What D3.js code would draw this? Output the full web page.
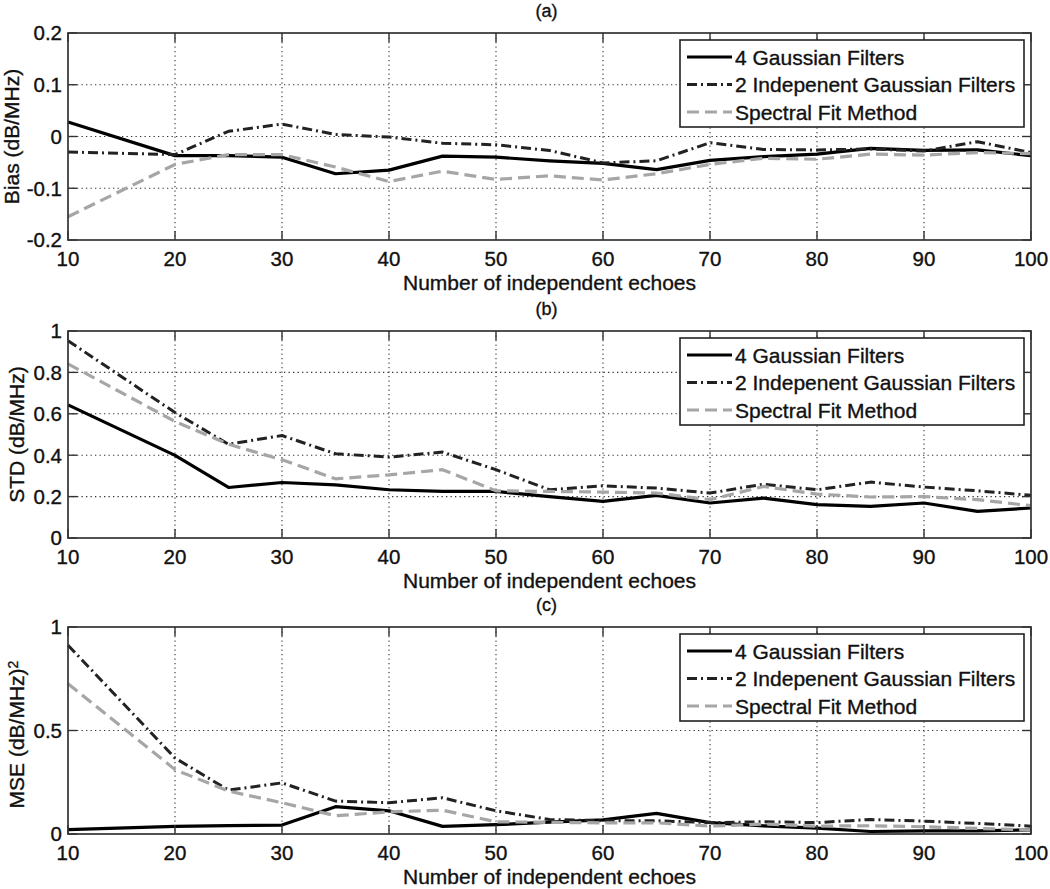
<!DOCTYPE html>
<html>
<head>
<meta charset="utf-8">
<script src="https://cdn.jsdelivr.net/npm/d3@7"></script>
<style>
  html, body { margin: 0; padding: 0; background: #fff; }
  svg { display: block; }
  text { font-family: "Liberation Sans", Arial, Helvetica, sans-serif; fill: #111; stroke: #111; stroke-width: 0.35px; }
</style>
</head>
<body>
<script>
// ---------------- data ----------------
const echoes = [10, 20, 25, 30, 35, 40, 45, 50, 55, 60, 65, 70, 75, 80, 85, 90, 95, 100];
const seriesNames = ["4 Gaussian Filters", "2 Indepenent Gaussian Filters", "Spectral Fit Method"];

const bias4  = [0.028, -0.037, -0.037, -0.040, -0.072, -0.065, -0.038, -0.040, -0.047, -0.052, -0.064, -0.046, -0.039, -0.034, -0.023, -0.027, -0.026, -0.037];
const bias2  = [-0.030, -0.035, 0.010, 0.024, 0.004, -0.001, -0.013, -0.016, -0.027, -0.051, -0.047, -0.012, -0.025, -0.026, -0.024, -0.028, -0.010, -0.031];
const biasSF = [-0.155, -0.054, -0.035, -0.035, -0.059, -0.087, -0.067, -0.083, -0.076, -0.084, -0.072, -0.054, -0.042, -0.044, -0.034, -0.036, -0.031, -0.033];

const std4  = [0.643, 0.399, 0.244, 0.268, 0.257, 0.233, 0.225, 0.225, 0.200, 0.177, 0.206, 0.169, 0.193, 0.161, 0.153, 0.169, 0.129, 0.145];
const std2  = [0.953, 0.606, 0.453, 0.495, 0.407, 0.391, 0.415, 0.330, 0.233, 0.252, 0.241, 0.217, 0.260, 0.233, 0.270, 0.246, 0.228, 0.206];
const stdSF = [0.841, 0.563, 0.453, 0.378, 0.286, 0.305, 0.330, 0.228, 0.225, 0.222, 0.217, 0.185, 0.249, 0.212, 0.198, 0.200, 0.185, 0.156];

const mse4  = [0.021, 0.037, 0.040, 0.043, 0.132, 0.112, 0.037, 0.045, 0.057, 0.068, 0.100, 0.055, 0.039, 0.028, 0.012, 0.015, 0.015, 0.020];
const mse2  = [0.912, 0.367, 0.212, 0.247, 0.159, 0.151, 0.175, 0.112, 0.070, 0.064, 0.064, 0.055, 0.059, 0.055, 0.070, 0.062, 0.051, 0.038];
const mseSF = [0.726, 0.311, 0.207, 0.151, 0.088, 0.107, 0.115, 0.059, 0.056, 0.054, 0.054, 0.038, 0.048, 0.038, 0.040, 0.035, 0.027, 0.020];

const xTicks    = [10, 20, 30, 40, 50, 60, 70, 80, 90, 100];
const biasTicks = [-0.2, -0.1, 0, 0.1, 0.2];
const stdTicks  = [0, 0.2, 0.4, 0.6, 0.8, 1];
const mseTicks  = [0, 0.5, 1];

const panelTitles = ["(a)", "(b)", "(c)"];
const xLabel = "Number of independent echoes";

// ---------------- layout ----------------
const W = 1050, H = 889;
const left = 68, right = 1031, plotH = 207;
const tops = [33, 331, 627];

const styles = [
  { color: "#000000", width: 3.2, dash: null },
  { color: "#222222", width: 3, dash: "10,4,2,4" },
  { color: "#a6a6a6", width: 3.2, dash: "12,6" }
];

const panels = [
  { top: tops[0], domain: [-0.2, 0.2], ticks: biasTicks, series: [bias4, bias2, biasSF], ylabel: "Bias (dB/MHz)", sup: null, ylx: 19 },
  { top: tops[1], domain: [0, 1], ticks: stdTicks, series: [std4, std2, stdSF], ylabel: "STD (dB/MHz)", sup: null, ylx: 24 },
  { top: tops[2], domain: [0, 1], ticks: mseTicks, series: [mse4, mse2, mseSF], ylabel: "MSE (dB/MHz)", sup: "2", ylx: 24 }
];

const svg = d3.select("body").append("svg").attr("width", W).attr("height", H);
svg.append("rect").attr("width", W).attr("height", H).attr("fill", "#fff");

const x = d3.scaleLinear().domain([10, 100]).range([left, right]);
const fmt = v => String(+v.toFixed(2));

panels.forEach((p, pi) => {
  const bottom = p.top + plotH;
  const y = d3.scaleLinear().domain(p.domain).range([bottom, p.top]);
  const g = svg.append("g");

  // grid
  const grid = g.append("g").attr("stroke", "#333").attr("stroke-width", 1.1).attr("stroke-dasharray", "1.3,3.2");
  xTicks.slice(1, -1).forEach(t => {
    grid.append("line").attr("x1", x(t)).attr("x2", x(t)).attr("y1", p.top).attr("y2", bottom);
  });
  p.ticks.slice(1, -1).forEach(t => {
    grid.append("line").attr("x1", left).attr("x2", right).attr("y1", y(t)).attr("y2", y(t));
  });

  // lines
  const line = d3.line().x((d, i) => x(echoes[i])).y(d => y(d));
  p.series.forEach((s, si) => {
    const st = styles[si];
    g.append("path").datum(s)
      .attr("d", line)
      .attr("fill", "none")
      .attr("stroke", st.color)
      .attr("stroke-width", st.width)
      .attr("stroke-linejoin", "round")
      .attr("stroke-dasharray", st.dash);
  });

  // frame and ticks (inward, all sides)
  const tl = 9;
  const tk = g.append("g").attr("stroke", "#333").attr("stroke-width", 1.4);
  xTicks.forEach(t => {
    tk.append("line").attr("x1", x(t)).attr("x2", x(t)).attr("y1", bottom).attr("y2", bottom - tl);
    tk.append("line").attr("x1", x(t)).attr("x2", x(t)).attr("y1", p.top).attr("y2", p.top + tl);
  });
  p.ticks.forEach(t => {
    tk.append("line").attr("x1", left).attr("x2", left + tl).attr("y1", y(t)).attr("y2", y(t));
    tk.append("line").attr("x1", right).attr("x2", right - tl).attr("y1", y(t)).attr("y2", y(t));
  });

  // legend
  const lgX = 680, lgW = 344, lgH = 87, lgY = p.top + 7;
  const lg = g.append("g");
  lg.append("rect").attr("x", lgX).attr("y", lgY).attr("width", lgW).attr("height", lgH)
    .attr("fill", "#fff").attr("stroke", "#222").attr("stroke-width", 1.6);
  seriesNames.forEach((name, si) => {
    const ry = lgY + 17 + si * 27.5;
    const st = styles[si];
    lg.append("line").attr("x1", lgX + 7).attr("x2", lgX + 52).attr("y1", ry).attr("y2", ry)
      .attr("stroke", st.color).attr("stroke-width", st.width).attr("stroke-dasharray", st.dash);
    lg.append("text").attr("x", lgX + 55).attr("y", ry).attr("dy", "0.36em")
      .attr("font-size", "21px").text(name);
  });

  g.append("rect").attr("x", left).attr("y", p.top).attr("width", right - left).attr("height", plotH)
    .attr("fill", "none").attr("stroke", "#333").attr("stroke-width", 1.7);

  // tick labels
  xTicks.forEach(t => {
    g.append("text").attr("x", x(t)).attr("y", bottom + 25.5).attr("text-anchor", "middle")
      .attr("font-size", "20.5px").text(t);
  });
  p.ticks.forEach(t => {
    g.append("text").attr("x", 62).attr("y", y(t)).attr("dy", "0.36em").attr("text-anchor", "end")
      .attr("font-size", "20.5px").text(fmt(t));
  });

  // axis labels
  g.append("text").attr("x", (left + right) / 2).attr("y", bottom + 50).attr("text-anchor", "middle")
    .attr("font-size", "21px").text(xLabel);

  const yl = g.append("text")
    .attr("transform", `translate(${p.ylx},${(p.top + bottom) / 2 + (p.sup ? 4 : 0)}) rotate(-90)`)
    .attr("text-anchor", "middle").attr("font-size", "21px");
  yl.append("tspan").text(p.ylabel);
  if (p.sup) yl.append("tspan").attr("dy", "-0.4em").attr("font-size", "14px").text(p.sup);

  // title
  g.append("text").attr("x", (left + right) / 2 - 3).attr("y", p.top - 16).attr("text-anchor", "middle")
    .attr("font-size", "18px").text(panelTitles[pi]);
});
</script>
</body>
</html>
